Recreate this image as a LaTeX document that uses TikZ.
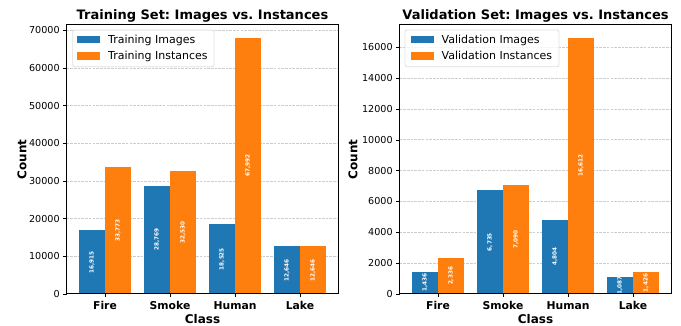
\documentclass[tikz,border=0pt]{standalone}
\usepackage{fontspec}
\setmainfont{DejaVu Sans}
\frenchspacing
\definecolor{barblue}{HTML}{1F77B4}
\definecolor{barorange}{HTML}{FF7F0E}

\begin{document}
\begin{tikzpicture}[
    x=1pt, y=1pt,
    gridline/.style={gray!40, dash pattern=on 2.6pt off 1.1pt, line width=0.6pt},
    spine/.style={line width=1pt},
    ticklabel/.style={anchor=east, inner sep=0pt, font=\fontsize{9.6}{11}\selectfont},
    classlabel/.style={anchor=base, inner sep=0pt, font=\bfseries\fontsize{10.8}{12}\selectfont},
    axlabel/.style={inner sep=0pt, font=\bfseries\fontsize{12}{14}\selectfont},
    plottitle/.style={anchor=base, inner sep=0pt, font=\bfseries\fontsize{13}{15}\selectfont},
    barlabel/.style={rotate=90, inner sep=0pt, text=white, font=\bfseries\fontsize{5.7}{6}\selectfont},
    legendframe/.style={draw=gray!25, fill=white, fill opacity=0.8, rounded corners=2pt, line width=0.8pt},
    legendtext/.style={anchor=base west, inner sep=0pt, font=\fontsize{11}{13}\selectfont}
  ]
  \useasboundingbox (0,0) rectangle (681,326);

  % training set
  \begin{scope}[shift={(105,32)}, x=65pt, y=3.7679pt]
    \foreach \t in {10,20,...,70}
      \draw[gridline] (-0.59,\t) -- (3.59,\t);
    \foreach \i/\img/\ins/\imgtxt/\instxt/\cls in {0/16.915/33.773/{16,915}/{33,773}/Fire,
        1/28.769/32.530/{28,769}/{32,530}/Smoke, 2/18.525/67.992/{18,525}/{67,992}/Human,
        3/12.646/12.646/{12,646}/{12,646}/Lake} {
      \fill[barblue] (\i-0.4,0) rectangle (\i,\img);
      \fill[barorange] (\i,0) rectangle (\i+0.4,\ins);
      \node[barlabel] (trimg\i) at (\i-0.2,\img/2) {\imgtxt};
      \node[barlabel] (trins\i) at (\i+0.2,\ins/2) {\instxt};
      \draw (\i,0) -- ++(0,-3.4pt);
      \node[classlabel, yshift=-16pt] (trcls\i) at (\i,0) {\cls};
    }
    \foreach \t/\txt in {0/0,10/10000,20/20000,30/30000,40/40000,50/50000,60/60000,70/70000} {
      \draw (-0.59,\t) -- ++(-3.4pt,0);
      \node[ticklabel, xshift=-6.8pt] (trtick\t) at (-0.59,\t) {\txt};
    }
    \draw[spine] (-0.59,0) rectangle (3.59,71.3916);
    \node[plottitle, yshift=5.5pt] (trtitle) at (1.5,71.3916) {Training Set: Images vs. Instances};
    \node[axlabel, anchor=base, yshift=-30pt] (trxlabel) at (1.5,0) {Class};
  \end{scope}
  \node[axlabel, rotate=90] (trylabel) at (22,166.5) {Count};
  \draw[legendframe] (72.7,259.3) rectangle (214,296);
  \fill[barblue] (76.7,282.5) rectangle (100,290.2);
  \fill[barorange] (76.7,266.2) rectangle (100,273.9);
  \node[legendtext] (trleg1) at (108,282.7) {Training Images};
  \node[legendtext] (trleg2) at (108,266.3) {Training Instances};

  % validation set
  \begin{scope}[shift={(438,32)}, x=65pt, y=15.422pt]
    \foreach \t in {2,4,...,16}
      \draw[gridline] (-0.59,\t) -- (3.59,\t);
    \foreach \i/\img/\ins/\imgtxt/\instxt/\cls in {0/1.436/2.336/{1,436}/{2,336}/Fire,
        1/6.735/7.090/{6,735}/{7,090}/Smoke, 2/4.804/16.612/{4,804}/{16,612}/Human,
        3/1.087/1.426/{1,087}/{1,426}/Lake} {
      \fill[barblue] (\i-0.4,0) rectangle (\i,\img);
      \fill[barorange] (\i,0) rectangle (\i+0.4,\ins);
      \node[barlabel] (vaimg\i) at (\i-0.2,\img/2) {\imgtxt};
      \node[barlabel] (vains\i) at (\i+0.2,\ins/2) {\instxt};
      \draw (\i,0) -- ++(0,-3.4pt);
      \node[classlabel, yshift=-16pt] (vacls\i) at (\i,0) {\cls};
    }
    \foreach \t/\txt in {0/0,2/2000,4/4000,6/6000,8/8000,10/10000,12/12000,14/14000,16/16000} {
      \draw (-0.59,\t) -- ++(-3.4pt,0);
      \node[ticklabel, xshift=-6.8pt] (vatick\t) at (-0.59,\t) {\txt};
    }
    \draw[spine] (-0.59,0) rectangle (3.59,17.4426);
    \node[plottitle, yshift=5.5pt] (vatitle) at (1.5,17.4426) {Validation Set: Images vs. Instances};
    \node[axlabel, anchor=base, yshift=-30pt] (vaxlabel) at (1.5,0) {Class};
  \end{scope}
  \node[axlabel, rotate=90] (vaylabel) at (353,166.5) {Count};
  \draw[legendframe] (405,259.3) rectangle (559,296);
  \fill[barblue] (410.5,282.5) rectangle (433.5,290.2);
  \fill[barorange] (410.5,266.2) rectangle (433.5,273.9);
  \node[legendtext] (valeg1) at (441.5,282.7) {Validation Images};
  \node[legendtext] (valeg2) at (441.5,266.3) {Validation Instances};
\end{tikzpicture}
\end{document}
